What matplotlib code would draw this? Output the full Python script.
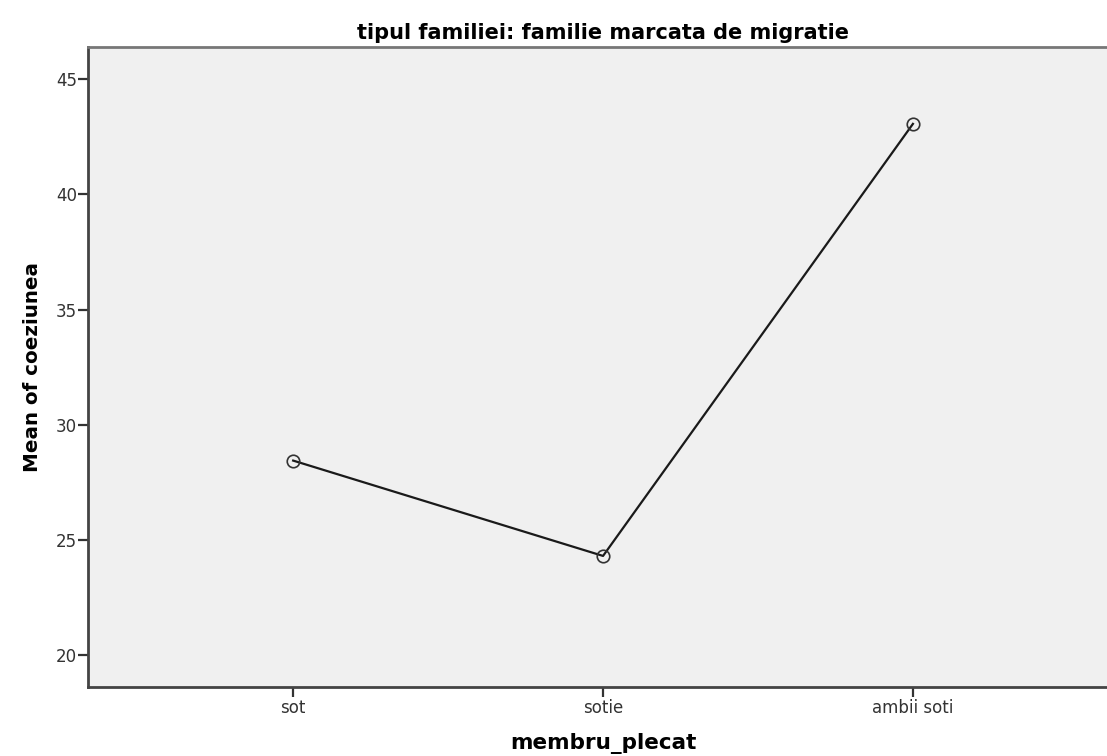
import matplotlib
matplotlib.use('Agg')
import matplotlib.pyplot as plt

## Mean of coeziunea by membru_plecat, family type marked by migration
categories = ['sot', 'sotie', 'ambii soti']
mean_values = [28.44, 24.30, 43.06]
y_ticks = [20, 25, 30, 35, 40, 45]

fig = plt.figure(figsize=(11.07, 7.56), dpi=100)
ax = fig.add_axes([0.0795, 0.0913, 0.9305, 0.8466])   # right edge runs off the figure, as in the reference
ax.set_facecolor('#f0f0f0')

x = list(range(len(categories)))
ax.plot(x, mean_values, color='#1a1a1a', linewidth=1.6, marker='o', markersize=9,
        markerfacecolor='none', markeredgecolor='#333333', markeredgewidth=1.2)

ax.set_xlim(-0.662, len(categories) - 1 + 0.662)
ax.set_ylim(18.61, 46.40)
ax.set_xticks(x)
ax.set_xticklabels(categories)
ax.set_yticks(y_ticks)

ax.tick_params(axis='both', direction='out', length=7, width=1.6, colors='#333333', labelsize=12)
ax.tick_params(axis='y', pad=1)
ax.tick_params(axis='x', pad=2)

for side in ['left', 'bottom', 'top']:
    ax.spines[side].set_color('#444444')
    ax.spines[side].set_linewidth(2)
ax.spines['top'].set_color('#777777')
ax.spines['right'].set_visible(False)

ax.set_title('tipul familiei: familie marcata de migratie', fontsize=15, fontweight='bold', pad=6)
ax.set_xlabel('membru_plecat', fontsize=15.5, fontweight='bold', labelpad=11)
ax.set_ylabel('Mean of coeziunea', fontsize=14.3, fontweight='bold', labelpad=10)

fig.savefig('out.png', dpi=100)
